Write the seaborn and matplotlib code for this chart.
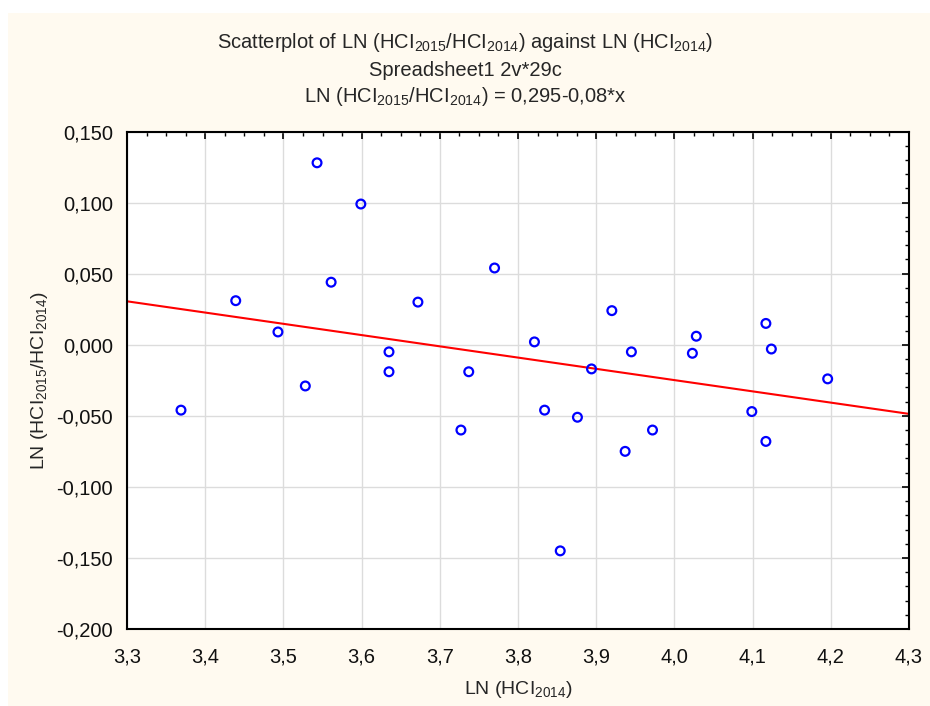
import matplotlib
matplotlib.use("Agg")
import matplotlib.pyplot as plt
import matplotlib.ticker as mticker
from matplotlib.patches import Rectangle
import seaborn as sns
import pandas as pd

# LN(HCI2014) and LN(HCI2015/HCI2014)
ln_hci2014 = [3.543, 3.599, 3.770, 3.561, 3.439, 3.672, 3.493, 3.635, 3.635, 3.737,
              3.821, 3.920, 3.894, 3.945, 4.028, 4.023, 4.117, 4.124, 4.196,
              3.369, 3.528, 3.727, 3.834, 3.876, 3.972, 3.937, 3.854, 4.099, 4.117]
ln_ratio = [0.128, 0.099, 0.054, 0.044, 0.031, 0.030, 0.009, -0.005, -0.019, -0.019,
            0.002, 0.024, -0.017, -0.005, 0.006, -0.006, 0.015, -0.003, -0.024,
            -0.046, -0.029, -0.060, -0.046, -0.051, -0.060, -0.075, -0.145, -0.047, -0.068]

df = pd.DataFrame({"x": ln_hci2014, "y": ln_ratio})

sns.set_style("white")
plt.rcParams["font.family"] = ["Liberation Sans", "DejaVu Sans"]
plt.rcParams["mathtext.fontset"] = "custom"
plt.rcParams["mathtext.rm"] = "Liberation Sans"
plt.rcParams["mathtext.it"] = "Liberation Sans:italic"

fig = plt.figure(figsize=(9.3, 7.06), dpi=100)
fig.patch.set_facecolor("white")
fig.patches.append(Rectangle((8 / 930, 0), 1, 1 - 13 / 706, transform=fig.transFigure,
                             facecolor="#FFFAF0", edgecolor="none", zorder=-10))

ax = fig.add_axes([0.1366, 0.109, 0.9774 - 0.1366, 0.8137 - 0.109])
ax.set_facecolor("white")
ax.set_xlim(3.3, 4.3)
ax.set_ylim(-0.2, 0.15)

sns.regplot(data=df, x="x", y="y", ax=ax, scatter=False, ci=None, truncate=False,
            line_kws={"color": "red", "lw": 1.5, "zorder": 2})
sns.scatterplot(data=df, x="x", y="y", ax=ax, marker="o", s=40, facecolor="none",
                edgecolor="#0000FF", linewidth=1.6, zorder=3)

ax.set_xlim(3.3, 4.3)
ax.set_ylim(-0.2, 0.15)
ax.xaxis.set_major_locator(mticker.MultipleLocator(0.1))
ax.xaxis.set_minor_locator(mticker.MultipleLocator(0.025))
ax.yaxis.set_major_locator(mticker.MultipleLocator(0.05))
ax.yaxis.set_minor_locator(mticker.MultipleLocator(0.01))
ax.xaxis.set_major_formatter(mticker.FuncFormatter(lambda v, p: f"{v:.1f}".replace(".", ",")))
ax.yaxis.set_major_formatter(mticker.FuncFormatter(lambda v, p: f"{v:.3f}".replace(".", ",").replace("-0,000", "0,000")))

ax.grid(True, which="major", color="#DCDCDC", lw=1)
ax.set_axisbelow(True)
ax.tick_params(which="both", direction="in", top=True, right=True, color="black",
               labelsize=14.5, labelcolor="#111111")
ax.tick_params(which="major", length=5, width=1.2)
ax.tick_params(axis="x", which="major", pad=13)
ax.tick_params(axis="y", which="major", pad=10)
ax.tick_params(which="minor", length=3, width=1)
for sp in ax.spines.values():
    sp.set_color("black")
    sp.set_linewidth(1.5)

ax.set_xlabel(r"LN (HCI$_{\mathregular{2014}}$)", fontsize=14, labelpad=9)
ax.set_ylabel(r"LN (HCI$_{\mathregular{2015}}$/HCI$_{\mathregular{2014}}$)", fontsize=14, labelpad=5)

fig.text(0.5, 1 - 43 / 706, r"Scatterplot of LN (HCI$_{\mathregular{2015}}$/HCI$_{\mathregular{2014}}$) against LN (HCI$_{\mathregular{2014}}$)",
         ha="center", va="center", fontsize=14.5)
fig.text(0.5, 1 - 70 / 706, "Spreadsheet1 2v*29c", ha="center", va="center", fontsize=14.5)
fig.text(0.5, 1 - 97 / 706, r"LN (HCI$_{\mathregular{2015}}$/HCI$_{\mathregular{2014}}$) = 0,295-0,08*x",
         ha="center", va="center", fontsize=14.5)

fig.savefig("out.png", dpi=100, facecolor=fig.get_facecolor())
